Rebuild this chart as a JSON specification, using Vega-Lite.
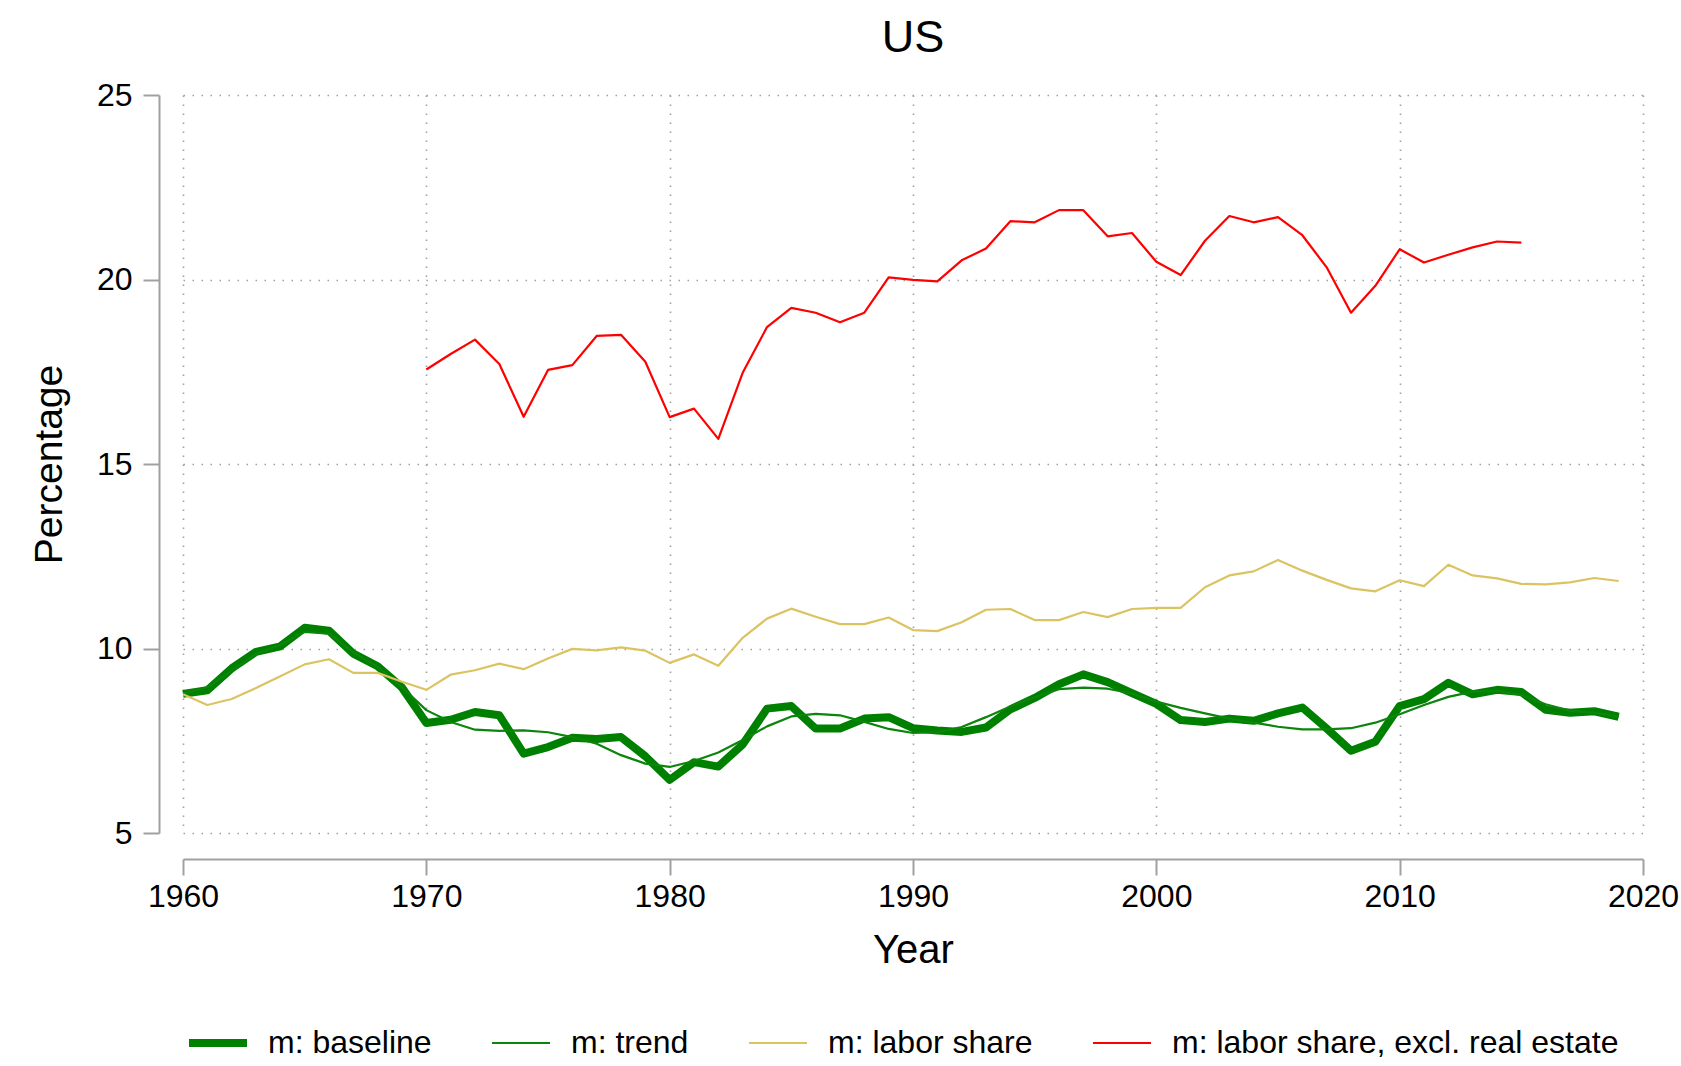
{
  "$schema": "https://vega.github.io/schema/vega-lite/v6.json",
  "autosize": "none",
  "width": 1460,
  "height": 738,
  "padding": {"left": 183, "top": 95, "right": 38, "bottom": 233},
  "title": {"text": "US", "fontSize": 45, "font": "Liberation Sans", "fontWeight": "normal", "offset": 18, "color": "black"},
  "config": {
    "font": "Liberation Sans",
    "view": {"stroke": null},
    "axis": {
      "domainColor": "#a0a0a0", "domainWidth": 2, "tickColor": "#a0a0a0", "tickWidth": 2, "tickSize": 16,
      "labelFontSize": 32, "labelColor": "black", "titleFontWeight": "normal", "titleColor": "black",
      "gridColor": "#a0a0a0", "gridDash": [1.5, 7.5], "gridWidth": 1.6
    }
  },
  "data": {"values": [
    {"year":1960,"baseline":8.77,"trend":8.78,"labor":8.76,"labor_excl":null},
    {"year":1961,"baseline":8.87,"trend":8.95,"labor":8.47,"labor_excl":null},
    {"year":1962,"baseline":9.46,"trend":9.40,"labor":8.63,"labor_excl":null},
    {"year":1963,"baseline":9.91,"trend":9.85,"labor":8.93,"labor_excl":null},
    {"year":1964,"baseline":10.06,"trend":10.10,"labor":9.25,"labor_excl":null},
    {"year":1965,"baseline":10.56,"trend":10.45,"labor":9.57,"labor_excl":null},
    {"year":1966,"baseline":10.48,"trend":10.40,"labor":9.71,"labor_excl":null},
    {"year":1967,"baseline":9.86,"trend":9.90,"labor":9.34,"labor_excl":null},
    {"year":1968,"baseline":9.52,"trend":9.50,"labor":9.34,"labor_excl":null},
    {"year":1969,"baseline":8.94,"trend":8.95,"labor":9.10,"labor_excl":null},
    {"year":1970,"baseline":7.98,"trend":8.33,"labor":8.88,"labor_excl":17.56},
    {"year":1971,"baseline":8.07,"trend":8.01,"labor":9.29,"labor_excl":17.98},
    {"year":1972,"baseline":8.28,"trend":7.80,"labor":9.41,"labor_excl":18.37},
    {"year":1973,"baseline":8.19,"trend":7.77,"labor":9.59,"labor_excl":17.71},
    {"year":1974,"baseline":7.15,"trend":7.78,"labor":9.44,"labor_excl":16.28},
    {"year":1975,"baseline":7.33,"trend":7.73,"labor":9.73,"labor_excl":17.55},
    {"year":1976,"baseline":7.58,"trend":7.60,"labor":9.99,"labor_excl":17.68},
    {"year":1977,"baseline":7.55,"trend":7.42,"labor":9.95,"labor_excl":18.47},
    {"year":1978,"baseline":7.60,"trend":7.11,"labor":10.03,"labor_excl":18.50},
    {"year":1979,"baseline":7.08,"trend":6.88,"labor":9.94,"labor_excl":17.77},
    {"year":1980,"baseline":6.44,"trend":6.79,"labor":9.61,"labor_excl":16.27},
    {"year":1981,"baseline":6.92,"trend":6.95,"labor":9.84,"labor_excl":16.50},
    {"year":1982,"baseline":6.80,"trend":7.18,"labor":9.53,"labor_excl":15.68},
    {"year":1983,"baseline":7.40,"trend":7.52,"labor":10.29,"labor_excl":17.47},
    {"year":1984,"baseline":8.37,"trend":7.89,"labor":10.81,"labor_excl":18.71},
    {"year":1985,"baseline":8.44,"trend":8.16,"labor":11.08,"labor_excl":19.23},
    {"year":1986,"baseline":7.83,"trend":8.23,"labor":10.86,"labor_excl":19.10},
    {"year":1987,"baseline":7.83,"trend":8.19,"labor":10.66,"labor_excl":18.84},
    {"year":1988,"baseline":8.10,"trend":8.01,"labor":10.66,"labor_excl":19.10},
    {"year":1989,"baseline":8.14,"trend":7.82,"labor":10.84,"labor_excl":20.06},
    {"year":1990,"baseline":7.84,"trend":7.71,"labor":10.50,"labor_excl":19.99},
    {"year":1991,"baseline":7.78,"trend":7.73,"labor":10.47,"labor_excl":19.95},
    {"year":1992,"baseline":7.74,"trend":7.87,"labor":10.71,"labor_excl":20.52},
    {"year":1993,"baseline":7.86,"trend":8.14,"labor":11.05,"labor_excl":20.84},
    {"year":1994,"baseline":8.35,"trend":8.43,"labor":11.07,"labor_excl":21.58},
    {"year":1995,"baseline":8.66,"trend":8.68,"labor":10.77,"labor_excl":21.55},
    {"year":1996,"baseline":9.03,"trend":8.90,"labor":10.77,"labor_excl":21.88},
    {"year":1997,"baseline":9.30,"trend":8.94,"labor":10.99,"labor_excl":21.88},
    {"year":1998,"baseline":9.09,"trend":8.91,"labor":10.85,"labor_excl":21.17},
    {"year":1999,"baseline":8.79,"trend":8.78,"labor":11.07,"labor_excl":21.26},
    {"year":2000,"baseline":8.50,"trend":8.56,"labor":11.10,"labor_excl":20.48},
    {"year":2001,"baseline":8.06,"trend":8.39,"labor":11.10,"labor_excl":20.12},
    {"year":2002,"baseline":8.01,"trend":8.24,"labor":11.66,"labor_excl":21.05},
    {"year":2003,"baseline":8.10,"trend":8.10,"labor":11.98,"labor_excl":21.72},
    {"year":2004,"baseline":8.04,"trend":7.99,"labor":12.09,"labor_excl":21.55},
    {"year":2005,"baseline":8.24,"trend":7.88,"labor":12.40,"labor_excl":21.69},
    {"year":2006,"baseline":8.40,"trend":7.81,"labor":12.11,"labor_excl":21.20},
    {"year":2007,"baseline":7.83,"trend":7.81,"labor":11.86,"labor_excl":20.33},
    {"year":2008,"baseline":7.23,"trend":7.84,"labor":11.63,"labor_excl":19.10},
    {"year":2009,"baseline":7.47,"trend":7.99,"labor":11.55,"labor_excl":19.83},
    {"year":2010,"baseline":8.44,"trend":8.22,"labor":11.85,"labor_excl":20.82},
    {"year":2011,"baseline":8.63,"trend":8.47,"labor":11.69,"labor_excl":20.46},
    {"year":2012,"baseline":9.07,"trend":8.69,"labor":12.27,"labor_excl":20.67},
    {"year":2013,"baseline":8.76,"trend":8.83,"labor":11.98,"labor_excl":20.87},
    {"year":2014,"baseline":8.88,"trend":8.85,"labor":11.90,"labor_excl":21.03},
    {"year":2015,"baseline":8.82,"trend":8.74,"labor":11.75,"labor_excl":21.00},
    {"year":2016,"baseline":8.34,"trend":8.49,"labor":11.74,"labor_excl":null},
    {"year":2017,"baseline":8.26,"trend":8.31,"labor":11.79,"labor_excl":null},
    {"year":2018,"baseline":8.30,"trend":8.26,"labor":11.91,"labor_excl":null},
    {"year":2019,"baseline":8.15,"trend":8.15,"labor":11.83,"labor_excl":null}
  ]},
  "transform": [
    {"fold": ["baseline", "trend", "labor", "labor_excl"], "as": ["series", "value"]},
    {"filter": "datum.value != null"}
  ],
  "mark": {"type": "line", "strokeJoin": "round"},
  "encoding": {
    "x": {
      "field": "year", "type": "quantitative",
      "scale": {"domain": [1960, 2020], "nice": false, "zero": false},
      "axis": {"values": [1960, 1970, 1980, 1990, 2000, 2010, 2020], "format": "d", "offset": 26, "labelPadding": 6,
               "labelFlush": false, "title": "Year", "titleFontSize": 40, "titlePadding": 18, "grid": true}
    },
    "y": {
      "field": "value", "type": "quantitative",
      "scale": {"domain": [5, 25], "nice": false, "zero": false},
      "axis": {"values": [5, 10, 15, 20, 25], "offset": 24, "labelPadding": 11, "labelFlush": false,
               "title": "Percentage", "titleFontSize": 39, "titlePadding": 27, "grid": true}
    },
    "color": {
      "field": "series", "type": "nominal",
      "scale": {"domain": ["baseline", "trend", "labor", "labor_excl"],
                "range": ["#008000", "#0b850b", "#dcc362", "#ff0000"]},
      "legend": {
        "title": null, "orient": "none", "direction": "horizontal", "legendX": 19, "legendY": 932,
        "symbolType": "stroke", "symbolSize": 3364, "labelFontSize": 32, "labelOffset": 34,
        "columnPadding": 55, "labelColor": "black", "labelLimit": 700,
        "labelExpr": "datum.label == 'baseline' ? 'm: baseline' : datum.label == 'trend' ? 'm: trend' : datum.label == 'labor' ? 'm: labor share' : 'm: labor share, excl. real estate'",
        "encode": {"symbols": {"update": {"strokeWidth": {"signal": "datum.value == 'baseline' ? 8 : 2.2"}}}}
      }
    },
    "strokeWidth": {"condition": {"test": "datum.series == 'baseline'", "value": 8}, "value": 2.2}
  }
}
